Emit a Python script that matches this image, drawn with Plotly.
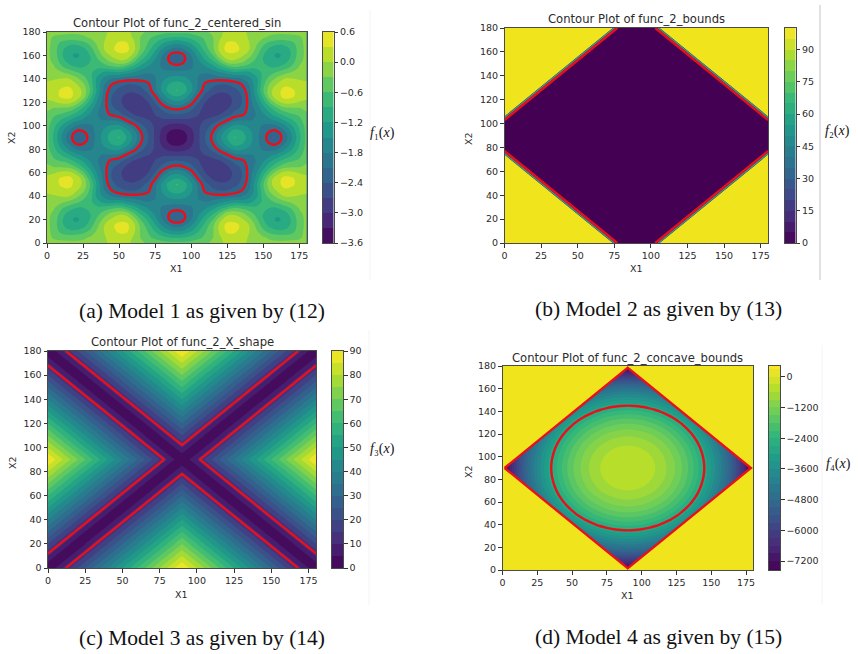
import plotly.graph_objects as go
from plotly.colors import sample_colorscale

# Each surface is symmetric about X1 = 90, X2 = 90 and the diagonal, so only one
# triangle of grid values is listed: row i holds offsets (i*step, j*step) with j <= i.
F1_STEP = 5
F1_ROWS = [
    [-3.55],
    [-3.42, -3.32],
    [-3.14, -3.08, -2.94],
    [-2.76, -2.75, -2.75, -2.74],
    [-2.37, -2.42, -2.54, -2.69, -2.80],
    [-2.02, -2.10, -2.31, -2.58, -2.81, -2.89],
    [-1.57, -1.69, -1.98, -2.38, -2.71, -2.87, -2.92],
    [-1.20, -1.33, -1.68, -2.14, -2.54, -2.74, -2.84, -2.80],
    [-0.87, -1.05, -1.43, -1.90, -2.30, -2.51, -2.62, -2.58, -2.50],
    [-1.03, -1.15, -1.45, -1.84, -2.18, -2.34, -2.42, -2.40, -2.30, -2.12],
    [-1.32, -1.39, -1.58, -1.82, -1.98, -2.00, -2.00, -1.98, -1.92, -1.82, -1.60],
    [-1.68, -1.69, -1.73, -1.78, -1.79, -1.72, -1.56, -1.42, -1.30, -1.33, -1.32, -1.05],
    [-2.00, -1.93, -1.83, -1.69, -1.53, -1.33, -1.05, -0.80, -0.62, -0.68, -0.76, -0.84, -0.78],
    [-2.25, -2.12, -1.88, -1.56, -1.24, -0.94, -0.52, -0.10, -0.06, -0.20, -0.45, -0.69, -0.90, -1.11],
    [-2.25, -2.12, -1.80, -1.38, -0.98, -0.61, -0.08, 0.18, 0.20, 0.06, -0.18, -0.52, -0.88, -1.14, -1.25],
    [-1.96, -1.81, -1.53, -1.15, -0.76, -0.38, 0.10, 0.42, 0.42, 0.24, 0.03, -0.36, -0.74, -1.01, -1.13, -1.06],
    [-1.50, -1.41, -1.20, -0.92, -0.62, -0.34, 0.08, 0.36, 0.36, 0.20, 0.02, -0.24, -0.53, -0.74, -0.84, -0.82, -0.69],
    [-0.98, -0.93, -0.83, -0.69, -0.53, -0.32, -0.03, 0.16, 0.18, 0.12, -0.02, -0.16, -0.28, -0.36, -0.43, -0.46, -0.45, -0.38],
    [-0.50, -0.50, -0.48, -0.42, -0.35, -0.24, -0.08, 0.10, 0.12, 0.08, -0.05, -0.14, -0.20, -0.22, -0.22, -0.20, -0.17, -0.15, -0.14],
]
F1_BOUNDARY = -2.1

F2_STEP = 10
F2_ROWS = [
    [0],
    [0, 0],
    [0, 0, 0],
    [0, 0, 0, 0],
    [0, 0, 0, 0, 0],
    [0, 0, 0, 0, 0, 0],
    [0, 0, 0, 0, 0, 0],
    [0, 0, 0, 0, 0],
    [0, 0, 0, 0],
    [0, 0, 0],
]
F2_OUTSIDE = 100
F2_BOUNDARY_X = [0, 77, None, 103, 180, None, 0, 77, None, 103, 180]
F2_BOUNDARY_Y = [103, 180, None, 180, 103, None, 77, 0, None, 0, 77]
F2_EDGE_X = [0, 75, None, 105, 180, None, 0, 75, None, 105, 180]
F2_EDGE_Y = [105, 180, None, 180, 105, None, 75, 0, None, 0, 75]
F2_PLATEAU_X = [[-3, -3, 77], [103, 183, 183], [-3, -3, 77], [103, 183, 183]]
F2_PLATEAU_Y = [[103, 183, 183], [183, 183, 103], [77, -3, -3], [-3, -3, 77]]

F3_STEP = 5
F3_ROWS = [
    [0],
    [5, 0],
    [10, 5, 0],
    [15, 10, 5, 0],
    [20, 15, 10, 5, 0],
    [25, 20, 15, 10, 5, 0],
    [30, 25, 20, 15, 10, 5, 0],
    [35, 30, 25, 20, 15, 10, 5, 0],
    [40, 35, 30, 25, 20, 15, 10, 5, 0],
    [45, 40, 35, 30, 25, 20, 15, 10, 5, 0],
    [50, 45, 40, 35, 30, 25, 20, 15, 10, 5, 0],
    [55, 50, 45, 40, 35, 30, 25, 20, 15, 10, 5, 0],
    [60, 55, 50, 45, 40, 35, 30, 25, 20, 15, 10, 5, 0],
    [65, 60, 55, 50, 45, 40, 35, 30, 25, 20, 15, 10, 5, 0],
    [70, 65, 60, 55, 50, 45, 40, 35, 30, 25, 20, 15, 10, 5, 0],
    [75, 70, 65, 60, 55, 50, 45, 40, 35, 30, 25, 20, 15, 10, 5, 0],
    [80, 75, 70, 65, 60, 55, 50, 45, 40, 35, 30, 25, 20, 15, 10, 5, 0],
    [85, 80, 75, 70, 65, 60, 55, 50, 45, 40, 35, 30, 25, 20, 15, 10, 5, 0],
    [90, 85, 80, 75, 70, 65, 60, 55, 50, 45, 40, 35, 30, 25, 20, 15, 10, 5, 0],
]
F3_BOUNDARY = 12

F4_STEP = 5
F4_ROWS = [
    [-300],
    [-319, -338],
    [-375, -394, -451],
    [-470, -489, -546, -642],
    [-604, -623, -681, -778, -914],
    [-778, -797, -856, -953, -1092, -1272],
    [-993, -1012, -1072, -1172, -1312, -1495, -1721],
    [-1252, -1272, -1332, -1434, -1577, -1763, -1993, -2270],
    [-1556, -1577, -1639, -1742, -1888, -2078, -2313, -2595, -2925],
    [-1909, -1930, -1993, -2099, -2248, -2442, -2682, -2970, -3308, -3698],
    [-2313, -2334, -2399, -2507, -2660, -2859, -3104, -3399, -3745, -4144],
    [-2770, -2792, -2859, -2970, -3127, -3331, -3583, -3885, -4240],
    [-3285, -3308, -3376, -3491, -3652, -3862, -4120, -4431],
    [-3862, -3885, -3956, -4074, -4240, -4455, -4722],
    [-4503, -4528, -4600, -4722, -4893, -5116],
    [-5215, -5240, -5315, -5441, -5618],
    [-6001, -6027, -6105, -6235],
    [-6867, -6894, -6974],
    [-7818, -7846],
]
F4_OUTSIDE = 400
F4_BOUNDARY = -2770
F4_DIAMOND_X = [1.5, 90, 178.5, 90, 1.5]
F4_DIAMOND_Y = [90, 178.5, 90, 1.5, 90]
F4_PLATEAU_X = [[-3, 1.5, 90, 90, -3], [90, 90, 178.5, 183, 183],
                [-3, 1.5, 90, 90, -3], [90, 90, 178.5, 183, 183]]
F4_PLATEAU_Y = [[90, 90, 178.5, 183, 183], [183, 178.5, 90, 90, 183],
                [90, 90, 1.5, -3, -3], [-3, 1.5, 90, 90, -3]]

X_TICKS = [0, 25, 50, 75, 100, 125, 150, 175]
Y_TICKS = [0, 20, 40, 60, 80, 100, 120, 140, 160, 180]
YELLOW = "#f0e51c"
RED = "#e8101c"
INK = "#2b2b2b"
SANS = "DejaVu Sans"
SERIF = "Liberation Serif"
W, H = 858, 654


def expand(rows, step, outside=None):
    """Mirror a triangular table of offsets into the full square grid."""
    n = len(rows)

    def value(i, j):
        hi, lo = max(i, j), min(i, j)
        row = rows[hi]
        return row[lo] if lo < len(row) else outside

    idx = [abs(k - (n - 1)) for k in range(2 * n - 1)]
    z = [[value(a, b) for b in idx] for a in idx]
    coords = [k * step for k in range(2 * n - 1)]
    return coords, z


def band_scale(start, end, size, lo, hi):
    """Stepped viridis lookup that colours each band by its midpoint over lo..hi."""
    nl = int(round((end - start) / size)) + 1
    mids = [start - size / 2 + k * size for k in range(nl + 1)]
    fr = [min(max((m - lo) / (hi - lo), 0), 1) for m in mids]
    cols = sample_colorscale("Viridis", fr)
    return [[k / nl, c] for k, c in enumerate(cols)], mids


panels = [
    dict(rows=F1_ROWS, step=F1_STEP, outside=None, smooth=1.3,
         start=-3.6, end=0.3, size=0.3, lo=-3.6, hi=0.6,
         bar_ticks=[-3.6, -3.0, -2.4, -1.8, -1.2, -0.6, 0.0, 0.6], bar_fmt=".1f",
         box=(47, 306.5, 32, 243), bar=(323, 333.5),
         title="Contour Plot of func_2_centered_sin", title_y=23,
         x_label=(176, 268), y_label=(11, 138),
         sym="<i>f</i>\u2081(<i>x</i>)", sym_xy=(382, 133),
         caption="(a) Model 1 as given by (12)", cap_xy=(202, 311), level=F1_BOUNDARY),
    dict(rows=F2_ROWS, step=F2_STEP, outside=F2_OUTSIDE, smooth=0,
         start=0, end=95, size=5, lo=0, hi=100,
         bar_ticks=[0, 15, 30, 45, 60, 75, 90], bar_fmt="d",
         box=(504.5, 768, 28, 243), bar=(785, 795.5),
         title="Contour Plot of func_2_bounds", title_y=19,
         x_label=(636, 268), y_label=(468, 138),
         sym="<i>f</i>\u2082(<i>x</i>)", sym_xy=(837, 131),
         caption="(b) Model 2 as given by (13)", cap_xy=(658, 309), level=None),
    dict(rows=F3_ROWS, step=F3_STEP, outside=None, smooth=0,
         start=0, end=85, size=5, lo=0, hi=90,
         bar_ticks=[0, 10, 20, 30, 40, 50, 60, 70, 80, 90], bar_fmt="d",
         box=(48, 316, 351, 568), bar=(332, 343),
         title="Contour Plot of func_2_X_shape", title_y=342,
         x_label=(181, 594), y_label=(12, 463),
         sym="<i>f</i>\u2083(<i>x</i>)", sym_xy=(382, 449),
         caption="(c) Model 3 as given by (14)", cap_xy=(201.5, 638), level=F3_BOUNDARY),
    dict(rows=F4_ROWS, step=F4_STEP, outside=F4_OUTSIDE, smooth=1.0,
         start=-7500, end=300, size=300, lo=-7550, hi=420,
         bar_ticks=[-7200, -6000, -4800, -3600, -2400, -1200, 0], bar_fmt="d",
         box=(502.5, 753, 366, 570), bar=(769, 780),
         title="Contour Plot of func_2_concave_bounds", title_y=358,
         x_label=(627, 595), y_label=(468, 471),
         sym="<i>f</i>\u2084(<i>x</i>)", sym_xy=(838, 464),
         caption="(d) Model 4 as given by (15)", cap_xy=(658, 637), level=F4_BOUNDARY),
]

fig = go.Figure()
layout = dict(width=W, height=H, margin=dict(l=0, r=0, t=0, b=0), autosize=False,
              paper_bgcolor="white", plot_bgcolor="white", showlegend=False)
notes, rules = [], []


def frame(**extra):
    return dict(showline=True, mirror=True, linecolor="#4a4a4a", linewidth=1, ticks="outside",
                ticklen=3.5, tickwidth=1, tickcolor="#333", showgrid=False, zeroline=False,
                automargin=False, tickfont=dict(family=SANS, size=9.5, color=INK), **extra)


def label(text, x, y, size, family=SANS, color=INK, angle=0):
    notes.append(dict(text=text, x=x / W, y=1 - y / H, xref="paper", yref="paper", showarrow=False,
                      textangle=angle, font=dict(family=family, size=size, color=color),
                      xanchor="center", yanchor="middle"))


for n, p in enumerate(panels):
    ax = n + 1
    bx = n + 5
    x0, x1, y0, y1 = p["box"]
    coords, z = expand(p["rows"], p["step"], p["outside"])
    scale, mids = band_scale(p["start"], p["end"], p["size"], p["lo"], p["hi"])
    fig.add_trace(go.Contour(
        x=coords, y=coords, z=z, xaxis=f"x{ax}", yaxis=f"y{ax}", showscale=False, autocontour=False,
        colorscale=scale, hoverinfo="skip",
        contours=dict(coloring="fill", start=p["start"], end=p["end"], size=p["size"], showlines=False),
        line=dict(width=0, smoothing=p["smooth"])))
    if p["level"] is not None:
        fig.add_trace(go.Contour(
            x=coords, y=coords, z=z, xaxis=f"x{ax}", yaxis=f"y{ax}", showscale=False, autocontour=False,
            hoverinfo="skip",
            contours=dict(coloring="none", start=p["level"], end=p["level"], size=1),
            line=dict(color=RED, width=2.4, smoothing=p["smooth"])))

    # Colour key: a one-column heatmap of the bands on its own axes
    n_levels = int(round((p["end"] - p["start"]) / p["size"])) + 1
    levels = [p["start"] + k * p["size"] for k in range(n_levels)]
    edges = [p["lo"]] + [v for v in levels if p["lo"] + 1e-9 < v < p["hi"] - 1e-9] + [p["hi"]]
    vals = []
    for a in edges[:-1]:
        if a < p["start"]:
            vals.append([mids[0]])
        else:
            vals.append([mids[int((a - p["start"]) / p["size"] + 1e-6) + 1]])
    fig.add_trace(go.Heatmap(x=[0, 1], y=edges, z=vals, xaxis=f"x{bx}", yaxis=f"y{bx}", showscale=False,
                             colorscale=scale, zmin=mids[0], zmax=mids[-1], hoverinfo="skip"))

    layout[f"xaxis{ax}"] = frame(domain=[x0 / W, x1 / W], anchor=f"y{ax}", range=[0, 180], tickvals=X_TICKS)
    layout[f"yaxis{ax}"] = frame(domain=[1 - y1 / H, 1 - y0 / H], anchor=f"x{ax}", range=[0, 180], tickvals=Y_TICKS)
    layout[f"xaxis{bx}"] = dict(domain=[p["bar"][0] / W, p["bar"][1] / W], anchor=f"y{bx}", range=[0, 1],
                                showticklabels=False, ticks="", showgrid=False, zeroline=False,
                                showline=True, mirror=True, linecolor="#4a4a4a", linewidth=1)
    layout[f"yaxis{bx}"] = frame(domain=[1 - y1 / H, 1 - y0 / H], anchor=f"x{bx}", side="right",
                                 range=[p["lo"], p["hi"]], tickvals=p["bar_ticks"], tickformat=p["bar_fmt"])

    label(p["title"], (x0 + x1) / 2, p["title_y"], 11.6)
    label("X1", *p["x_label"], 9.5)
    label("X2", *p["y_label"], 9.5, angle=-90)
    label(p["sym"], *p["sym_xy"], 14, family=SERIF, color="#111")
    label(p["caption"], *p["cap_xy"], 21.5, family=SERIF, color="#111")

# Flat plateaus and sharp boundaries of the two bounded models
for px, py in zip(F2_PLATEAU_X, F2_PLATEAU_Y):
    fig.add_trace(go.Scatter(x=px, y=py, xaxis="x2", yaxis="y2", mode="lines", fill="toself", fillcolor=YELLOW,
                             line=dict(width=0), hoverinfo="skip"))
fig.add_trace(go.Scatter(x=F2_EDGE_X, y=F2_EDGE_Y, xaxis="x2", yaxis="y2", mode="lines",
                         line=dict(color="#2f9e8c", width=1.5), hoverinfo="skip"))
fig.add_trace(go.Scatter(x=F2_BOUNDARY_X, y=F2_BOUNDARY_Y, xaxis="x2", yaxis="y2", mode="lines",
                         line=dict(color=RED, width=2.4), hoverinfo="skip"))
for px, py in zip(F4_PLATEAU_X, F4_PLATEAU_Y):
    fig.add_trace(go.Scatter(x=px, y=py, xaxis="x4", yaxis="y4", mode="lines", fill="toself", fillcolor=YELLOW,
                             line=dict(width=0), hoverinfo="skip"))
fig.add_trace(go.Scatter(x=F4_DIAMOND_X, y=F4_DIAMOND_Y, xaxis="x4", yaxis="y4", mode="lines",
                         line=dict(color=RED, width=2.4), hoverinfo="skip"))

# Page rules beside the right-hand edge of each panel
for xr, y_a, y_b, col in [(370, 10, 280, "#f4f4f4"), (820, 5, 280, "#c4c4c4"),
                          (369, 330, 605, "#f4f4f4"), (822, 345, 605, "#f4f4f4")]:
    rules.append(dict(type="line", xref="paper", yref="paper", x0=xr / W, x1=xr / W,
                      y0=1 - y_a / H, y1=1 - y_b / H, line=dict(color=col, width=1)))

fig.update_layout(annotations=notes, shapes=rules, **layout)
fig.write_html("out.html")
